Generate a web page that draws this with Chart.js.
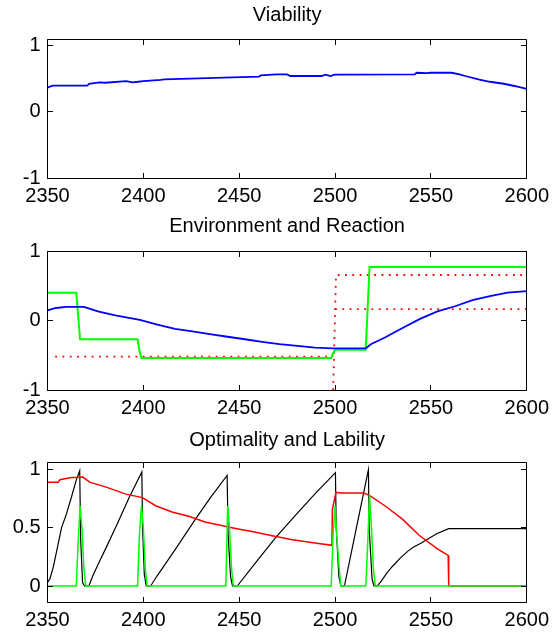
<!DOCTYPE html>
<html>
<head>
<meta charset="utf-8">
<script src="https://cdn.jsdelivr.net/npm/chart.js@4/dist/chart.umd.min.js"></script>
<style>
  html, body { margin: 0; padding: 0; background: #fff; }
  #wrap { position: relative; width: 555px; height: 634px; }
  canvas { position: absolute; left: 0; }
</style>
</head>
<body>
<div id="wrap">
  <canvas id="c1" width="555" height="208" style="top:0px"></canvas>
  <canvas id="c2" width="555" height="210" style="top:208px"></canvas>
  <canvas id="c3" width="555" height="216" style="top:418px"></canvas>
</div>
<script>
// ---- shared axis ticks ----
const yearTicks = [2350, 2400, 2450, 2500, 2550, 2600];
const unitTicks = [-1, 0, 1];
const fractionTicks = [0, 0.5, 1];

// ---- Viability ----
const viabilityYears = [2350, 2352.6, 2370.8, 2371.7, 2377.2, 2380, 2391, 2394.6, 2397.3, 2400, 2409, 2411, 2437.5, 2460.3, 2461.2, 2469.4, 2475, 2476.7, 2493, 2495, 2497.7, 2499.6, 2541.6, 2542.5, 2548, 2549.8, 2560.7, 2564.4, 2568, 2575.3, 2580.8, 2588, 2593.6, 2600];
const viability = [0.366, 0.395, 0.395, 0.424, 0.444, 0.439, 0.463, 0.444, 0.454, 0.463, 0.483, 0.49, 0.512, 0.532, 0.55, 0.566, 0.566, 0.541, 0.541, 0.561, 0.541, 0.561, 0.566, 0.59, 0.585, 0.59, 0.59, 0.571, 0.541, 0.488, 0.454, 0.424, 0.39, 0.345];

// ---- Environment and Reaction ----
const reactionYears = [2350, 2354.4, 2359.9, 2369, 2376.3, 2385.4, 2398.2, 2407.3, 2416.5, 2425.6, 2434.7, 2443.9, 2453, 2462, 2471, 2480.4, 2489.5, 2498.6, 2516, 2518.7, 2526, 2535.2, 2544.3, 2553.4, 2562.6, 2571.7, 2580.8, 2590, 2600];
const reaction = [0.146, 0.18, 0.195, 0.195, 0.13, 0.073, 0.01, -0.059, -0.12, -0.156, -0.195, -0.234, -0.27, -0.307, -0.341, -0.366, -0.39, -0.40, -0.40, -0.341, -0.244, -0.107, 0.024, 0.132, 0.205, 0.293, 0.351, 0.40, 0.424];

const responseYears = [2350, 2365, 2366, 2367, 2397, 2398, 2399, 2498, 2499, 2500, 2516, 2517, 2518, 2600];
const response = [0.40, 0.40, 0.06, -0.27, -0.27, -0.44, -0.54, -0.54, -0.47, -0.42, -0.42, 0.17, 0.77, 0.77];

// environment levels (dotted)
const envLowYears = [2354, 2499];
const envLow = [-0.52, -0.52];
const envHighYears = [2499, 2500.5, 2600];
const envHigh = [-1, 0.655, 0.655];
const envMidYears = [2500, 2600];
const envMid = [0.165, 0.165];

// ---- Optimality and Lability ----
const optimalityYears = [2350, 2355.5, 2356.5, 2361.6, 2368.5, 2372, 2380.6, 2390.9, 2399.5, 2406.4, 2415, 2423.6, 2432.2, 2442.6, 2449.4, 2458, 2466.6, 2477, 2489.5, 2498.4, 2498.6, 2500.5, 2503, 2515, 2517, 2518.7, 2526, 2535, 2544, 2553.4, 2559, 2559.3, 2600];
const optimality = [0.893, 0.893, 0.914, 0.93, 0.936, 0.893, 0.85, 0.79, 0.76, 0.69, 0.636, 0.60, 0.55, 0.513, 0.49, 0.464, 0.435, 0.40, 0.37, 0.35, 0.66, 0.806, 0.80, 0.80, 0.786, 0.77, 0.69, 0.577, 0.434, 0.32, 0.263, 0, 0];

const labilityYears = [2350, 2351.3, 2353, 2355.6, 2357.3, 2359.9, 2362.5, 2365, 2366.8, 2367.3, 2368.3, 2369.3, 2371.6, 2373.7, 2377.1, 2380.6, 2386, 2392.6, 2399.2, 2399.6, 2400.5, 2401.5, 2403.8, 2407.3, 2416.5, 2427, 2435, 2443.7, 2444.2, 2445.5, 2446.5, 2449, 2459, 2469.2, 2480, 2490, 2500.2, 2500.6, 2502, 2503, 2504.9, 2511, 2517.4, 2517.8, 2519.3, 2520.3, 2522, 2524, 2527, 2530, 2534, 2538, 2541, 2545, 2548, 2553, 2559.3, 2600];
const lability = [0.03, 0.063, 0.163, 0.364, 0.50, 0.62, 0.765, 0.91, 0.99, 0.40, 0.03, 0, 0, 0.09, 0.21, 0.33, 0.52, 0.76, 0.98, 0.5, 0.1, 0, 0, 0.09, 0.31, 0.57, 0.76, 0.95, 0.45, 0.08, 0, 0, 0.21, 0.42, 0.62, 0.80, 0.974, 0.5, 0.08, 0, 0, 0.49, 1.0, 0.5, 0.06, 0, 0, 0.04, 0.11, 0.17, 0.24, 0.30, 0.335, 0.37, 0.40, 0.45, 0.493, 0.493];

const switchYears = [2350, 2365, 2366, 2367, 2368, 2369, 2370, 2397, 2398, 2399, 2400, 2401, 2402, 2443, 2444, 2445, 2446, 2447, 2498, 2499, 2500, 2501, 2502, 2503, 2516, 2517, 2518, 2519, 2520, 2521, 2600];
const switching = [0, 0, 0.38, 0.69, 0.49, 0.15, 0, 0, 0.45, 0.69, 0.50, 0.15, 0, 0, 0.69, 0.48, 0.15, 0, 0, 0.45, 0.69, 0.41, 0.19, 0, 0, 0.35, 0.78, 0.50, 0.15, 0, 0];

// ---- helpers ----
const FONT = 'Liberation Sans, Arial, Helvetica, sans-serif';
const pts = (xs, ys) => xs.map((x, i) => ({ x, y: ys[i] }));

function series(xs, ys, color, width, dash) {
  return {
    data: pts(xs, ys),
    borderColor: color,
    borderWidth: width,
    borderDash: dash || [],
    pointRadius: 0,
    fill: false,
    tension: 0
  };
}

// box frame with inward tick marks on all four sides
const boxFrame = {
  id: 'boxFrame',
  afterDatasetsDraw(chart) {
    const { ctx, chartArea: a, scales } = chart;
    const L = Math.floor(a.left) + 0.5, R = Math.floor(a.right) + 0.5;
    const T = Math.floor(a.top) + 0.5, B = Math.floor(a.bottom) + 0.5;
    const len = 5.5;
    ctx.save();
    ctx.strokeStyle = '#000';
    ctx.lineWidth = 1;
    ctx.beginPath();
    ctx.rect(L, T, R - L, B - T);
    scales.x.ticks.forEach(t => {
      const px = Math.floor(scales.x.getPixelForValue(t.value)) + 0.5;
      ctx.moveTo(px, B); ctx.lineTo(px, B - len);
      ctx.moveTo(px, T); ctx.lineTo(px, T + len);
    });
    scales.y.ticks.forEach(t => {
      const py = Math.floor(scales.y.getPixelForValue(t.value)) + 0.5;
      ctx.moveTo(L, py); ctx.lineTo(L + len, py);
      ctx.moveTo(R, py); ctx.lineTo(R - len, py);
    });
    ctx.stroke();
    ctx.restore();
  }
};

function makeChart(id, title, datasets, yMin, yMax, yTickValues, titlePad, xAxisHeight) {
  return new Chart(document.getElementById(id), {
    type: 'line',
    data: { datasets },
    plugins: [boxFrame],
    options: {
      responsive: false,
      animation: false,
      events: [],
      layout: { padding: { top: 0, left: 0, right: 23.5, bottom: 0 } },
      plugins: {
        legend: { display: false },
        tooltip: { enabled: false },
        title: {
          display: true,
          text: title,
          fullSize: false,
          color: '#000',
          font: { family: FONT, size: 20, weight: 'normal' },
          padding: titlePad
        }
      },
      scales: {
        x: {
          type: 'linear',
          min: 2350,
          max: 2600,
          afterBuildTicks: s => { s.ticks = yearTicks.map(v => ({ value: v })); },
          afterFit: s => { s.height = xAxisHeight; },
          grid: { display: false, drawTicks: false },
          border: { display: false },
          ticks: {
            color: '#000',
            font: { family: FONT, size: 20 },
            padding: 6,
            maxRotation: 0,
            autoSkip: false,
            callback: v => String(v)
          }
        },
        y: {
          type: 'linear',
          min: yMin,
          max: yMax,
          afterBuildTicks: s => { s.ticks = yTickValues.map(v => ({ value: v })); },
          afterFit: s => { s.width = 47.5; },
          grid: { display: false, drawTicks: false },
          border: { display: false },
          ticks: {
            color: '#000',
            font: { family: FONT, size: 20 },
            padding: 7,
            autoSkip: false,
            callback: v => String(v)
          }
        }
      }
    }
  });
}

makeChart('c1', 'Viability', [
  series(viabilityYears, viability, '#0000ff', 1.8)
], -1, 1.1, unitTicks, { top: 3.8, bottom: 11.2 }, 30);

makeChart('c2', 'Environment and Reaction', [
  series(reactionYears, reaction, '#0000ff', 1.8),
  series(responseYears, response, '#00ff00', 2),
  series(envLowYears, envLow, '#ff0000', 1.8, [1.8, 5.5]),
  series(envHighYears, envHigh, '#ff0000', 1.8, [1.8, 5.5]),
  series(envMidYears, envMid, '#ff0000', 1.8, [1.8, 5.5])
], -1, 1, unitTicks, { top: 6.5, bottom: 12.5 }, 28);

makeChart('c3', 'Optimality and Lability', [
  series(switchYears, switching, '#00ff00', 1.5),
  series(optimalityYears, optimality, '#ff0000', 1.5),
  series(labilityYears, lability, '#000000', 1.2)
], -0.14, 1.06, fractionTicks, { top: 10.3, bottom: 10.4 }, 31.7);
</script>
</body>
</html>
